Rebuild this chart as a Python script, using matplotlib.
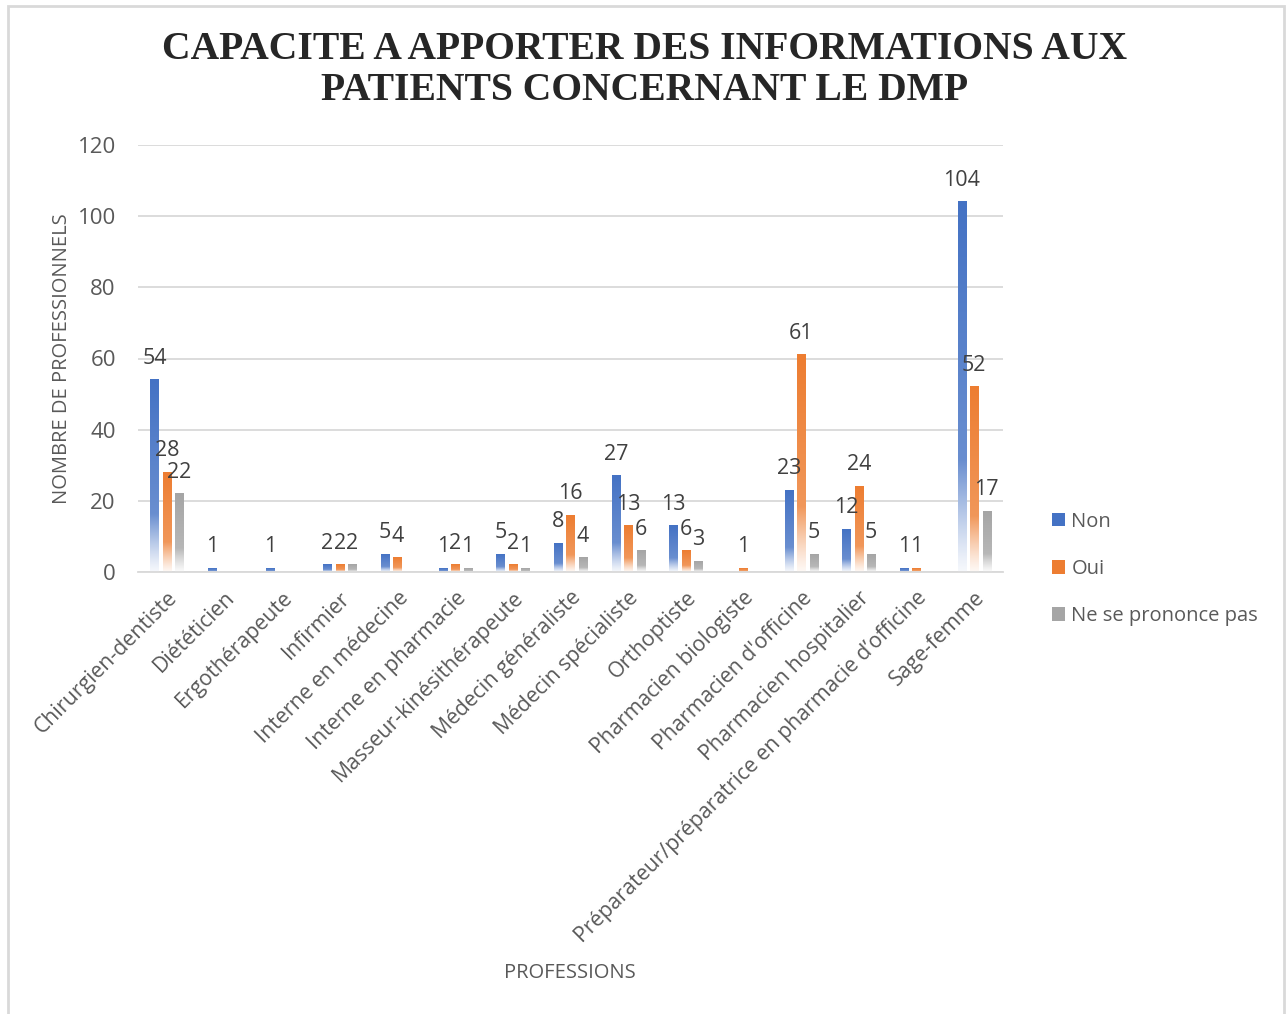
import matplotlib.pyplot as plt
import matplotlib.patches as mpatches
import numpy as np
from matplotlib.colors import to_rgb

professions = [
    "Chirurgien-dentiste", "Diététicien", "Ergothérapeute", "Infirmier",
    "Interne en médecine", "Interne en pharmacie", "Masseur-kinésithérapeute",
    "Médecin généraliste", "Médecin spécialiste", "Orthoptiste",
    "Pharmacien biologiste", "Pharmacien d'officine", "Pharmacien hospitalier",
    "Préparateur/préparatrice en pharmacie d’officine", "Sage-femme",
]
non = [54, 1, 1, 2, 5, 1, 5, 8, 27, 13, 0, 23, 12, 1, 104]
oui = [28, 0, 0, 2, 4, 2, 2, 16, 13, 6, 1, 61, 24, 1, 52]
ne_se_prononce_pas = [22, 0, 0, 2, 0, 1, 1, 4, 6, 3, 0, 5, 5, 0, 17]

series = [("Non", non, "#4472C4"),
          ("Oui", oui, "#ED7D31"),
          ("Ne se prononce pas", ne_se_prononce_pas, "#A5A5A5")]

plt.rcParams['font.family'] = ['Open Sans', 'DejaVu Sans']

fig = plt.figure(figsize=(12.87, 10.14), dpi=100)
ax = fig.add_axes([138 / 1287, 1 - 572 / 1014, (1003 - 138) / 1287, (572 - 145) / 1014])

# chart border
fig.patches.append(mpatches.Rectangle((8 / 1287, -0.01), (1284 - 8) / 1287, 1 - 6 / 1014 + 0.01,
                                      transform=fig.transFigure, fill=False,
                                      edgecolor="#D9D9D9", linewidth=2))


def gradient(color, n=256):
    # solid near the top, fading to white at the base
    c = np.array(to_rgb(color))
    t = np.linspace(0, 1, n)
    f = np.where(t < 0.3,
                 0.05 + 0.75 * (t / 0.3) ** 1.2,
                 0.8 + 0.2 * (t - 0.3) / 0.7)
    rows = (1 - f)[:, None] + f[:, None] * c[None, :]
    return rows[:, None, :]


x = np.arange(len(professions))
width = 0.14
offsets = [-0.215, 0, 0.215]

for (name, vals, color), off in zip(series, offsets):
    img = gradient(color)
    for xi, v in zip(x, vals):
        if v <= 0:
            continue
        x0 = xi + off - width / 2
        ax.imshow(img, extent=[x0, x0 + width, 0, v], origin='lower',
                  aspect='auto', zorder=2, interpolation='bilinear')
        ax.annotate(str(v), (xi + off, v), xytext=(0, 8), textcoords='offset points',
                    ha='center', va='bottom', fontsize=15.5, color='#404040', zorder=3)

ax.set_xlim(-0.5, len(professions) - 0.5)
ax.set_ylim(0, 120)
ax.set_yticks(range(0, 121, 20))
ax.yaxis.grid(True, color='#D9D9D9', linewidth=1.3, zorder=0)
ax.set_axisbelow(True)
for s in ['top', 'right', 'left']:
    ax.spines[s].set_visible(False)
ax.spines['bottom'].set_color('#D9D9D9')
ax.spines['bottom'].set_linewidth(1.3)
ax.tick_params(axis='both', length=0, labelsize=16, labelcolor='#595959')
ax.tick_params(axis='y', pad=16)
ax.set_xticks(x)
ax.set_xticklabels(professions, rotation=45, ha='right', rotation_mode='anchor', fontsize=15.3)
ax.tick_params(axis='x', pad=11)

ax.set_ylabel("NOMBRE DE PROFESSIONNELS", fontsize=14.5, color='#595959', labelpad=4)
fig.text(570 / 1287, 1 - 973 / 1014, "PROFESSIONS", fontsize=14.5, color='#595959',
         ha='center', va='center')

fig.text(645 / 1287, 1 - 70 / 1014,
         "CAPACITE A APPORTER DES INFORMATIONS AUX\nPATIENTS CONCERNANT LE DMP",
         fontsize=28.5, fontweight='bold', family='Liberation Serif', color='#262626',
         ha='center', va='center', linespacing=1.12)

handles = [mpatches.Patch(facecolor=c, label=n) for n, _, c in series]
fig.legend(handles=handles, loc='center left', bbox_to_anchor=(1034 / 1287, 1 - 569 / 1014),
           frameon=False, fontsize=14.5, labelcolor='#595959', handlelength=0.65,
           handleheight=0.65, handletextpad=0.3, labelspacing=1.35)

fig.savefig("out.png", dpi=100)
